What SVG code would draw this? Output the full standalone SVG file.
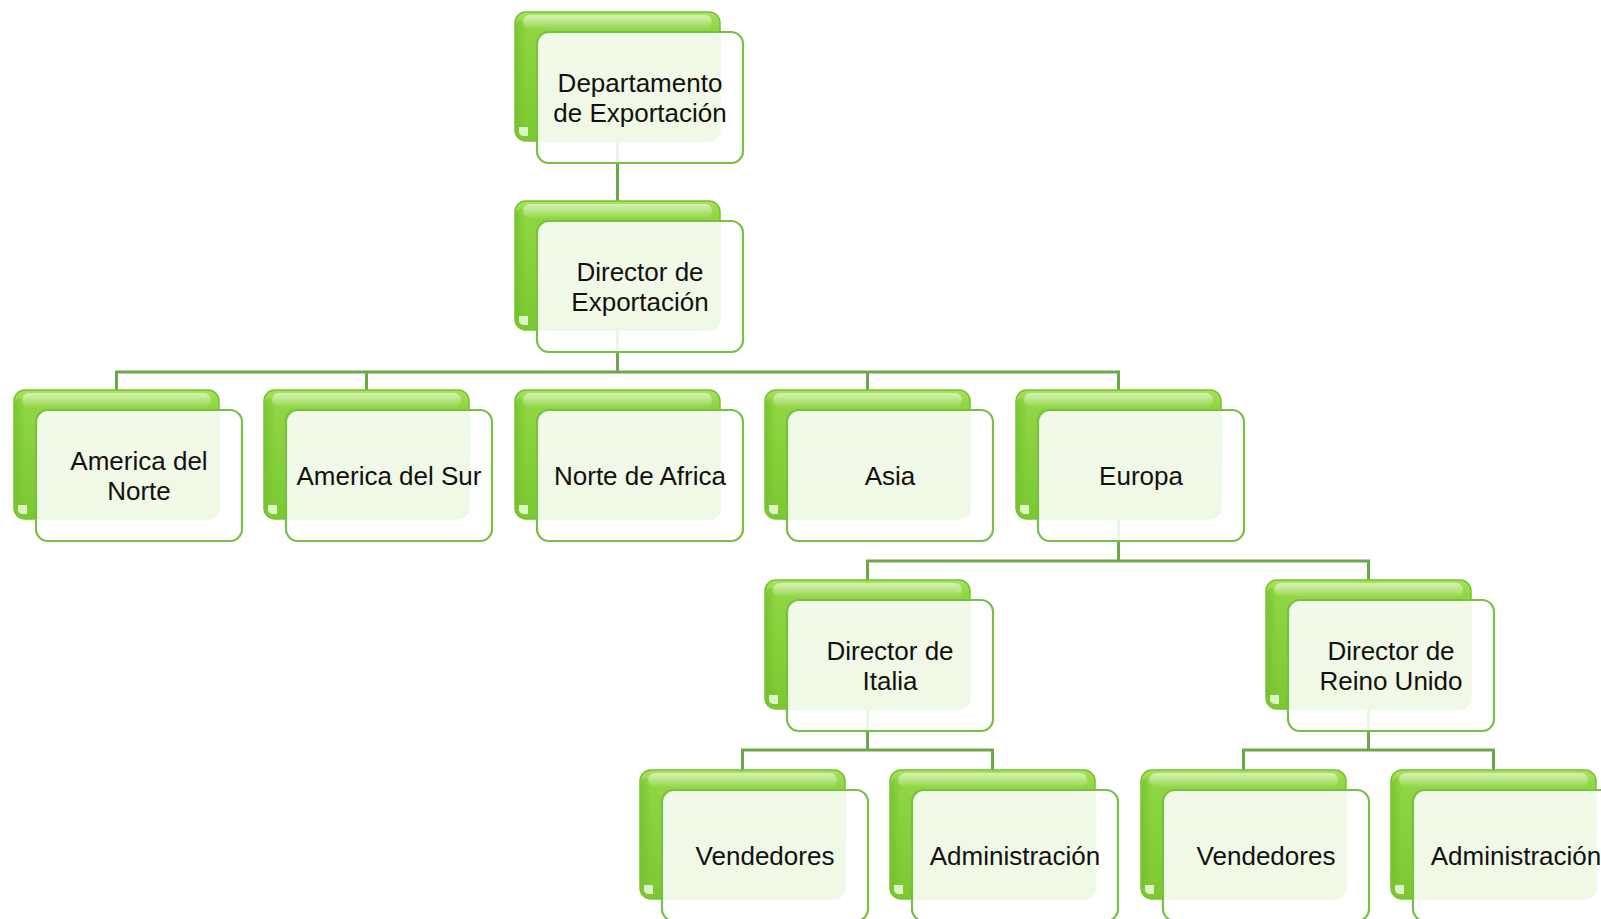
<svg xmlns="http://www.w3.org/2000/svg" width="1601" height="919" viewBox="0 0 1601 919">
<defs>
<linearGradient id="gBack" x1="0" y1="0" x2="0" y2="1">
<stop offset="0" stop-color="#a9e25f"/>
<stop offset="0.12" stop-color="#8fd642"/>
<stop offset="1" stop-color="#7cc832"/>
</linearGradient>
<linearGradient id="gHi" x1="0" y1="0" x2="0" y2="1">
<stop offset="0" stop-color="#ffffff" stop-opacity="0.55"/>
<stop offset="1" stop-color="#ffffff" stop-opacity="0.05"/>
</linearGradient>
<linearGradient id="gLeft" x1="0" y1="0" x2="1" y2="0">
<stop offset="0" stop-color="#6fbb2a" stop-opacity="0.6"/>
<stop offset="1" stop-color="#6fbb2a" stop-opacity="0"/>
</linearGradient>
</defs>
<style>
.back{fill:url(#gBack);stroke:#74c22e;stroke-width:1.5}
.hi{fill:url(#gHi)}
.lft{fill:url(#gLeft)}
.spot{fill:#e9f7d6;opacity:0.9}
.front{fill:#ffffff;fill-opacity:0.88;stroke:#79bf46;stroke-width:2.2}
.lbl{font-family:"Liberation Sans",Arial,sans-serif;font-size:26px;fill:#111;text-anchor:middle}
.conn{fill:none;stroke:#6aa84a;stroke-width:3}
</style>
<rect width="1601" height="919" fill="#ffffff"/>
<g id="connectors">
<path class="conn" d="M617.5 141 V201"/>
<path class="conn" d="M617.5 330 V372 M116.5 390 V372 H1118.5 V390 M366.5 372 V390 M867.5 372 V390"/>
<path class="conn" d="M1118.5 519 V561 M867.5 580 V561 H1368.5 V580"/>
<path class="conn" d="M867.5 709 V750 M742.5 770 V750 H992.5 V770"/>
<path class="conn" d="M1368.5 709 V750 M1243.5 770 V750 H1493.5 V770"/>
</g>
<g id="n-departamento" transform="translate(515,12)">
<rect class="back" x="0" y="0" width="205" height="129" rx="11"/>
<rect class="lft" x="1" y="8" width="10" height="112" rx="5"/>
<rect class="hi" x="8" y="3" width="189" height="14" rx="7"/>
<path class="spot" d="M4 115 h9 v9 h-5 a5 5 0 0 1 -4 -4z"/>
<rect class="front" x="22" y="20" width="206" height="131" rx="12"/>
<text class="lbl" x="125" y="80">Departamento</text>
<text class="lbl" x="125" y="110">de Exportación</text>
</g>
<g id="n-director" transform="translate(515,201)">
<rect class="back" x="0" y="0" width="205" height="129" rx="11"/>
<rect class="lft" x="1" y="8" width="10" height="112" rx="5"/>
<rect class="hi" x="8" y="3" width="189" height="14" rx="7"/>
<path class="spot" d="M4 115 h9 v9 h-5 a5 5 0 0 1 -4 -4z"/>
<rect class="front" x="22" y="20" width="206" height="131" rx="12"/>
<text class="lbl" x="125" y="80">Director de</text>
<text class="lbl" x="125" y="110">Exportación</text>
</g>
<g id="n-america-norte" transform="translate(14,390)">
<rect class="back" x="0" y="0" width="205" height="129" rx="11"/>
<rect class="lft" x="1" y="8" width="10" height="112" rx="5"/>
<rect class="hi" x="8" y="3" width="189" height="14" rx="7"/>
<path class="spot" d="M4 115 h9 v9 h-5 a5 5 0 0 1 -4 -4z"/>
<rect class="front" x="22" y="20" width="206" height="131" rx="12"/>
<text class="lbl" x="125" y="80">America del</text>
<text class="lbl" x="125" y="110">Norte</text>
</g>
<g id="n-america-sur" transform="translate(264,390)">
<rect class="back" x="0" y="0" width="205" height="129" rx="11"/>
<rect class="lft" x="1" y="8" width="10" height="112" rx="5"/>
<rect class="hi" x="8" y="3" width="189" height="14" rx="7"/>
<path class="spot" d="M4 115 h9 v9 h-5 a5 5 0 0 1 -4 -4z"/>
<rect class="front" x="22" y="20" width="206" height="131" rx="12"/>
<text class="lbl" x="125" y="95">America del Sur</text>
</g>
<g id="n-norte-africa" transform="translate(515,390)">
<rect class="back" x="0" y="0" width="205" height="129" rx="11"/>
<rect class="lft" x="1" y="8" width="10" height="112" rx="5"/>
<rect class="hi" x="8" y="3" width="189" height="14" rx="7"/>
<path class="spot" d="M4 115 h9 v9 h-5 a5 5 0 0 1 -4 -4z"/>
<rect class="front" x="22" y="20" width="206" height="131" rx="12"/>
<text class="lbl" x="125" y="95">Norte de Africa</text>
</g>
<g id="n-asia" transform="translate(765,390)">
<rect class="back" x="0" y="0" width="205" height="129" rx="11"/>
<rect class="lft" x="1" y="8" width="10" height="112" rx="5"/>
<rect class="hi" x="8" y="3" width="189" height="14" rx="7"/>
<path class="spot" d="M4 115 h9 v9 h-5 a5 5 0 0 1 -4 -4z"/>
<rect class="front" x="22" y="20" width="206" height="131" rx="12"/>
<text class="lbl" x="125" y="95">Asia</text>
</g>
<g id="n-europa" transform="translate(1016,390)">
<rect class="back" x="0" y="0" width="205" height="129" rx="11"/>
<rect class="lft" x="1" y="8" width="10" height="112" rx="5"/>
<rect class="hi" x="8" y="3" width="189" height="14" rx="7"/>
<path class="spot" d="M4 115 h9 v9 h-5 a5 5 0 0 1 -4 -4z"/>
<rect class="front" x="22" y="20" width="206" height="131" rx="12"/>
<text class="lbl" x="125" y="95">Europa</text>
</g>
<g id="n-dir-italia" transform="translate(765,580)">
<rect class="back" x="0" y="0" width="205" height="129" rx="11"/>
<rect class="lft" x="1" y="8" width="10" height="112" rx="5"/>
<rect class="hi" x="8" y="3" width="189" height="14" rx="7"/>
<path class="spot" d="M4 115 h9 v9 h-5 a5 5 0 0 1 -4 -4z"/>
<rect class="front" x="22" y="20" width="206" height="131" rx="12"/>
<text class="lbl" x="125" y="80">Director de</text>
<text class="lbl" x="125" y="110">Italia</text>
</g>
<g id="n-dir-reino-unido" transform="translate(1266,580)">
<rect class="back" x="0" y="0" width="205" height="129" rx="11"/>
<rect class="lft" x="1" y="8" width="10" height="112" rx="5"/>
<rect class="hi" x="8" y="3" width="189" height="14" rx="7"/>
<path class="spot" d="M4 115 h9 v9 h-5 a5 5 0 0 1 -4 -4z"/>
<rect class="front" x="22" y="20" width="206" height="131" rx="12"/>
<text class="lbl" x="125" y="80">Director de</text>
<text class="lbl" x="125" y="110">Reino Unido</text>
</g>
<g id="n-vend-italia" transform="translate(640,770)">
<rect class="back" x="0" y="0" width="205" height="129" rx="11"/>
<rect class="lft" x="1" y="8" width="10" height="112" rx="5"/>
<rect class="hi" x="8" y="3" width="189" height="14" rx="7"/>
<path class="spot" d="M4 115 h9 v9 h-5 a5 5 0 0 1 -4 -4z"/>
<rect class="front" x="22" y="20" width="206" height="131" rx="12"/>
<text class="lbl" x="125" y="95">Vendedores</text>
</g>
<g id="n-admin-italia" transform="translate(890,770)">
<rect class="back" x="0" y="0" width="205" height="129" rx="11"/>
<rect class="lft" x="1" y="8" width="10" height="112" rx="5"/>
<rect class="hi" x="8" y="3" width="189" height="14" rx="7"/>
<path class="spot" d="M4 115 h9 v9 h-5 a5 5 0 0 1 -4 -4z"/>
<rect class="front" x="22" y="20" width="206" height="131" rx="12"/>
<text class="lbl" x="125" y="95">Administración</text>
</g>
<g id="n-vend-ru" transform="translate(1141,770)">
<rect class="back" x="0" y="0" width="205" height="129" rx="11"/>
<rect class="lft" x="1" y="8" width="10" height="112" rx="5"/>
<rect class="hi" x="8" y="3" width="189" height="14" rx="7"/>
<path class="spot" d="M4 115 h9 v9 h-5 a5 5 0 0 1 -4 -4z"/>
<rect class="front" x="22" y="20" width="206" height="131" rx="12"/>
<text class="lbl" x="125" y="95">Vendedores</text>
</g>
<g id="n-admin-ru" transform="translate(1391,770)">
<rect class="back" x="0" y="0" width="205" height="129" rx="11"/>
<rect class="lft" x="1" y="8" width="10" height="112" rx="5"/>
<rect class="hi" x="8" y="3" width="189" height="14" rx="7"/>
<path class="spot" d="M4 115 h9 v9 h-5 a5 5 0 0 1 -4 -4z"/>
<rect class="front" x="22" y="20" width="206" height="131" rx="12"/>
<text class="lbl" x="125" y="95">Administración</text>
</g>
</svg>
